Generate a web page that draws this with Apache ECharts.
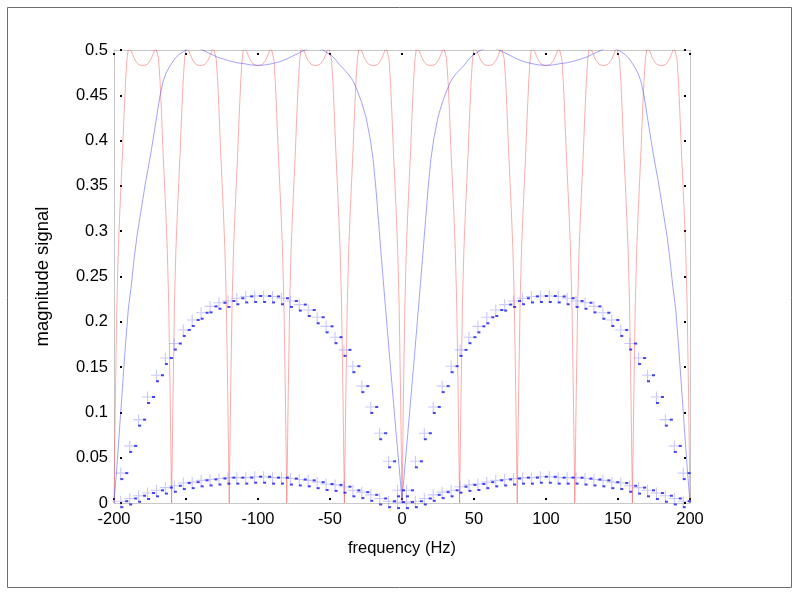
<!DOCTYPE html>
<html><head><meta charset="utf-8">
<script src="https://cdn.jsdelivr.net/npm/echarts@6/dist/echarts.min.js"></script>
<style>html,body{margin:0;padding:0;background:#fff}#c{width:800px;height:596px}</style>
</head><body><div id="c"></div>
<script>
// ---- data ----
const xTickValues = [-200,-150,-100,-50,0,50,100,150,200];
const yTickValues = [0,0.05,0.1,0.15,0.2,0.25,0.3,0.35,0.4,0.45,0.5];

// red curve: sampled every 1 Hz from -200 to 200
const redStart = -200, redStep = 1;
const redMag = [
0,0.12,0.22,0.28,0.32,0.355,0.39,0.43,0.465,0.49,0.502,0.503,0.499,0.495,0.491,0.488,0.486,0.484,0.483,0.483,0.483,0.483,0.483,0.484,0.486,0.488,0.491,0.495,0.499,0.503,0.502,0.49,0.465,0.43,0.39,0.355,0.32,0.28,0.22,0.12,
0,0.12,0.22,0.28,0.32,0.355,0.39,0.43,0.465,0.49,0.502,0.503,0.499,0.495,0.491,0.488,0.486,0.484,0.483,0.483,0.483,0.483,0.483,0.484,0.486,0.488,0.491,0.495,0.499,0.503,0.502,0.49,0.465,0.43,0.39,0.355,0.32,0.28,0.22,0.12,
0,0.12,0.22,0.28,0.32,0.355,0.39,0.43,0.465,0.49,0.502,0.503,0.499,0.495,0.491,0.488,0.486,0.484,0.483,0.483,0.483,0.483,0.483,0.484,0.486,0.488,0.491,0.495,0.499,0.503,0.502,0.49,0.465,0.43,0.39,0.355,0.32,0.28,0.22,0.12,
0,0.12,0.22,0.28,0.32,0.355,0.39,0.43,0.465,0.49,0.502,0.503,0.499,0.495,0.491,0.488,0.486,0.484,0.483,0.483,0.483,0.483,0.483,0.484,0.486,0.488,0.491,0.495,0.499,0.503,0.502,0.49,0.465,0.43,0.39,0.355,0.32,0.28,0.22,0.12,
0,0.12,0.22,0.28,0.32,0.355,0.39,0.43,0.465,0.49,0.502,0.503,0.499,0.495,0.491,0.488,0.486,0.484,0.483,0.483,0.483,0.483,0.483,0.484,0.486,0.488,0.491,0.495,0.499,0.503,0.502,0.49,0.465,0.43,0.39,0.355,0.32,0.28,0.22,0.12,
0,0.12,0.22,0.28,0.32,0.355,0.39,0.43,0.465,0.49,0.502,0.503,0.499,0.495,0.491,0.488,0.486,0.484,0.483,0.483,0.483,0.483,0.483,0.484,0.486,0.488,0.491,0.495,0.499,0.503,0.502,0.49,0.465,0.43,0.39,0.355,0.32,0.28,0.22,0.12,
0,0.12,0.22,0.28,0.32,0.355,0.39,0.43,0.465,0.49,0.502,0.503,0.499,0.495,0.491,0.488,0.486,0.484,0.483,0.483,0.483,0.483,0.483,0.484,0.486,0.488,0.491,0.495,0.499,0.503,0.502,0.49,0.465,0.43,0.39,0.355,0.32,0.28,0.22,0.12,
0,0.12,0.22,0.28,0.32,0.355,0.39,0.43,0.465,0.49,0.502,0.503,0.499,0.495,0.491,0.488,0.486,0.484,0.483,0.483,0.483,0.483,0.483,0.484,0.486,0.488,0.491,0.495,0.499,0.503,0.502,0.49,0.465,0.43,0.39,0.355,0.32,0.28,0.22,0.12,
0,0.12,0.22,0.28,0.32,0.355,0.39,0.43,0.465,0.49,0.502,0.503,0.499,0.495,0.491,0.488,0.486,0.484,0.483,0.483,0.483,0.483,0.483,0.484,0.486,0.488,0.491,0.495,0.499,0.503,0.502,0.49,0.465,0.43,0.39,0.355,0.32,0.28,0.22,0.12,
0,0.12,0.22,0.28,0.32,0.355,0.39,0.43,0.465,0.49,0.502,0.503,0.499,0.495,0.491,0.488,0.486,0.484,0.483,0.483,0.483,0.483,0.483,0.484,0.486,0.488,0.491,0.495,0.499,0.503,0.502,0.49,0.465,0.43,0.39,0.355,0.32,0.28,0.22,0.12,
0];

// blue curve
const blueFreq = [-200,-198,-196,-194,-192,-190,-188,-186,-184,-182,-180,-178,-176,-174,-172,-170,-168,-166,-164,-162,-160,-158,-155,-152,-149,-146,-143,-140,-136,-132,-128,-124,-120,-115,-110,-105,-100,-95,-90,-85,-80,-75,-70,-66,-62,-58,-55,-52,-49,-46,-43,-40,-37,-34,-31,-28,-25,-22,-20,-18,-16,-14,-12,-10,-8,-6,-4,-2,0,
2,4,6,8,10,12,14,16,18,20,22,25,28,31,34,37,40,43,46,49,52,55,58,62,66,70,75,80,85,90,95,100,105,110,115,120,124,128,132,136,140,143,146,149,152,155,158,160,162,164,166,168,170,172,174,176,178,180,182,184,186,188,190,192,194,196,198,200];
const blueMag = [0.0,0.04,0.085,0.13,0.175,0.215,0.24,0.27,0.295,0.315,0.335,0.355,0.372,0.39,0.41,0.43,0.45,0.465,0.474,0.48,0.485,0.49,0.495,0.498,0.501,0.503,0.503,0.501,0.498,0.495,0.492,0.49,0.488,0.486,0.485,0.4835,0.483,0.4835,0.485,0.487,0.49,0.494,0.498,0.501,0.503,0.502,0.5,0.497,0.494,0.489,0.483,0.478,0.473,0.466,0.455,0.442,0.426,0.401,0.379,0.345,0.305,0.265,0.226,0.188,0.15,0.113,0.076,0.04,0.003,
0.04,0.076,0.113,0.15,0.188,0.226,0.265,0.305,0.345,0.379,0.401,0.426,0.442,0.455,0.466,0.473,0.478,0.483,0.489,0.494,0.497,0.5,0.502,0.503,0.501,0.498,0.494,0.49,0.487,0.485,0.4835,0.483,0.4835,0.485,0.486,0.488,0.49,0.492,0.495,0.498,0.501,0.503,0.503,0.501,0.498,0.495,0.49,0.485,0.48,0.474,0.465,0.45,0.43,0.41,0.39,0.372,0.355,0.335,0.315,0.295,0.27,0.24,0.215,0.175,0.13,0.085,0.04,0.0];

// sampled markers
const markerFreq = [-195.3,-189.1,-182.9,-176.7,-170.5,-164.3,-158.1,-151.9,-145.7,-139.5,-133.3,-127.1,-120.9,-114.7,-108.5,-102.3,-96.1,-89.9,-83.7,-77.5,-71.3,-65.1,-58.9,-52.7,-46.5,-40.3,-34.1,-27.9,-21.7,-15.5,-9.3,-3.1,
3.1,9.3,15.5,21.7,27.9,34.1,40.3,46.5,52.7,58.9,65.1,71.3,77.5,83.7,89.9,96.1,102.3,108.5,114.7,120.9,127.1,133.3,139.5,145.7,151.9,158.1,164.3,170.5,176.7,182.9,189.1,195.3];
const upperMag = [0.033,0.063,0.092,0.117,0.141,0.160,0.176,0.191,0.202,0.210,0.217,0.221,0.223,0.226,0.228,0.2285,0.2285,0.228,0.226,0.223,0.219,0.213,0.205,0.195,0.183,0.169,0.151,0.129,0.106,0.077,0.046,0.014,
0.014,0.046,0.077,0.106,0.129,0.151,0.169,0.183,0.195,0.205,0.213,0.219,0.223,0.226,0.228,0.2285,0.2285,0.228,0.226,0.223,0.221,0.217,0.210,0.202,0.191,0.176,0.160,0.141,0.117,0.092,0.063,0.033];
const lowerMag = [0.002,0.005,0.008,0.011,0.014,0.017,0.019,0.022,0.023,0.025,0.026,0.027,0.028,0.028,0.028,0.029,0.029,0.028,0.028,0.027,0.026,0.025,0.023,0.021,0.020,0.018,0.014,0.012,0.009,0.005,0.002,0.001,
0.001,0.002,0.005,0.009,0.012,0.014,0.018,0.020,0.021,0.023,0.025,0.026,0.027,0.028,0.028,0.029,0.029,0.028,0.028,0.028,0.027,0.026,0.025,0.023,0.022,0.019,0.017,0.014,0.011,0.008,0.005,0.002];

// ---- build ----
const redData = redMag.map((v, i) => [redStart + i * redStep, v]);
const blueData = blueFreq.map((f, i) => [f, blueMag[i]]);
const upperData = markerFreq.map((f, i) => [f, upperMag[i]]);
const lowerData = markerFreq.map((f, i) => [f, lowerMag[i]]);

const FONT = 'Liberation Sans, Arial, sans-serif';
const plusPath = 'path://M4.5,0H5.5V4.5H10V5.5H5.5V10H4.5V5.5H0V4.5H4.5Z';
const axisGrey = '#c8c8c8';

function baseX(extra) {
  return Object.assign({type:'value', min:-200, max:200, interval:50, gridIndex:0,
    splitLine:{show:false}, axisTick:{show:false}, axisLabel:{show:false},
    axisLine:{show:false, onZero:false}}, extra);
}
function baseY(extra) {
  return Object.assign({type:'value', min:0, max:0.5, interval:0.05, gridIndex:0,
    splitLine:{show:false}, axisTick:{show:false}, axisLabel:{show:false},
    axisLine:{show:false, onZero:false}}, extra);
}
const tickStyle = {show:true, inside:true, length:2, lineStyle:{color:'#000', width:2}};

const markerSeries = [];
[upperData, lowerData].forEach(d => {
  markerSeries.push({type:'scatter', data:d, symbol:plusPath, symbolSize:11, clip:false, z:4,
    itemStyle:{color:'rgba(120,120,255,0.5)'}, silent:true});
  markerSeries.push({type:'scatter', data:d, symbol:'rect', symbolSize:[3,2], symbolOffset:[6,0], clip:false, z:5,
    itemStyle:{color:'#1515e8'}, silent:true});
  markerSeries.push({type:'scatter', data:d, symbol:'rect', symbolSize:[3,2], symbolOffset:[1,6], clip:false, z:5,
    itemStyle:{color:'#1515e8'}, silent:true});
});

const chart = echarts.init(document.getElementById('c'), null, {renderer:'canvas'});
chart.setOption({
  animation:false,
  backgroundColor:'#fff',
  textStyle:{fontFamily:FONT},
  grid:{left:114, right:110, top:50, bottom:93, containLabel:false},
  graphic:[{type:'rect', shape:{x:7.5, y:7.5, width:784, height:580}, style:{fill:'none', stroke:'#6e6e6e', lineWidth:1}, silent:true}],
  xAxis:[
    baseX({position:'bottom', axisLine:{show:true, onZero:false, lineStyle:{color:axisGrey}},
      axisLabel:{show:true, color:'#000', fontSize:16.5, margin:8, fontFamily:FONT},
      name:'frequency (Hz)', nameLocation:'middle', nameGap:37,
      nameTextStyle:{color:'#000', fontSize:16.5, fontFamily:FONT}}),
    baseX({position:'top', axisLine:{show:true, onZero:false, lineStyle:{color:axisGrey}}}),
    baseX({position:'bottom', offset:-3, axisTick:tickStyle}),
    baseX({position:'top', offset:-3, axisTick:tickStyle})
  ],
  yAxis:[
    baseY({position:'left', axisLine:{show:true, onZero:false, lineStyle:{color:axisGrey}},
      axisLabel:{show:true, color:'#000', fontSize:16.5, margin:6, fontFamily:FONT},
      name:'magnitude signal', nameLocation:'middle', nameGap:62, nameRotate:90,
      nameTextStyle:{color:'#000', fontSize:18.5, fontFamily:FONT}}),
    baseY({position:'right', axisLine:{show:true, onZero:false, lineStyle:{color:axisGrey}}}),
    baseY({position:'left', offset:-6, axisTick:tickStyle}),
    baseY({position:'right', offset:-4, axisTick:tickStyle})
  ],
  series:[
    {type:'line', data:redData, showSymbol:false, symbol:'none', clip:true, z:2, silent:true,
      lineStyle:{color:'rgba(240,60,60,0.42)', width:1}},
    {type:'line', data:blueData, showSymbol:false, symbol:'none', clip:true, z:3, silent:true,
      lineStyle:{color:'rgba(60,60,240,0.48)', width:1}},
    ...markerSeries
  ]
});
</script>
</body></html>
